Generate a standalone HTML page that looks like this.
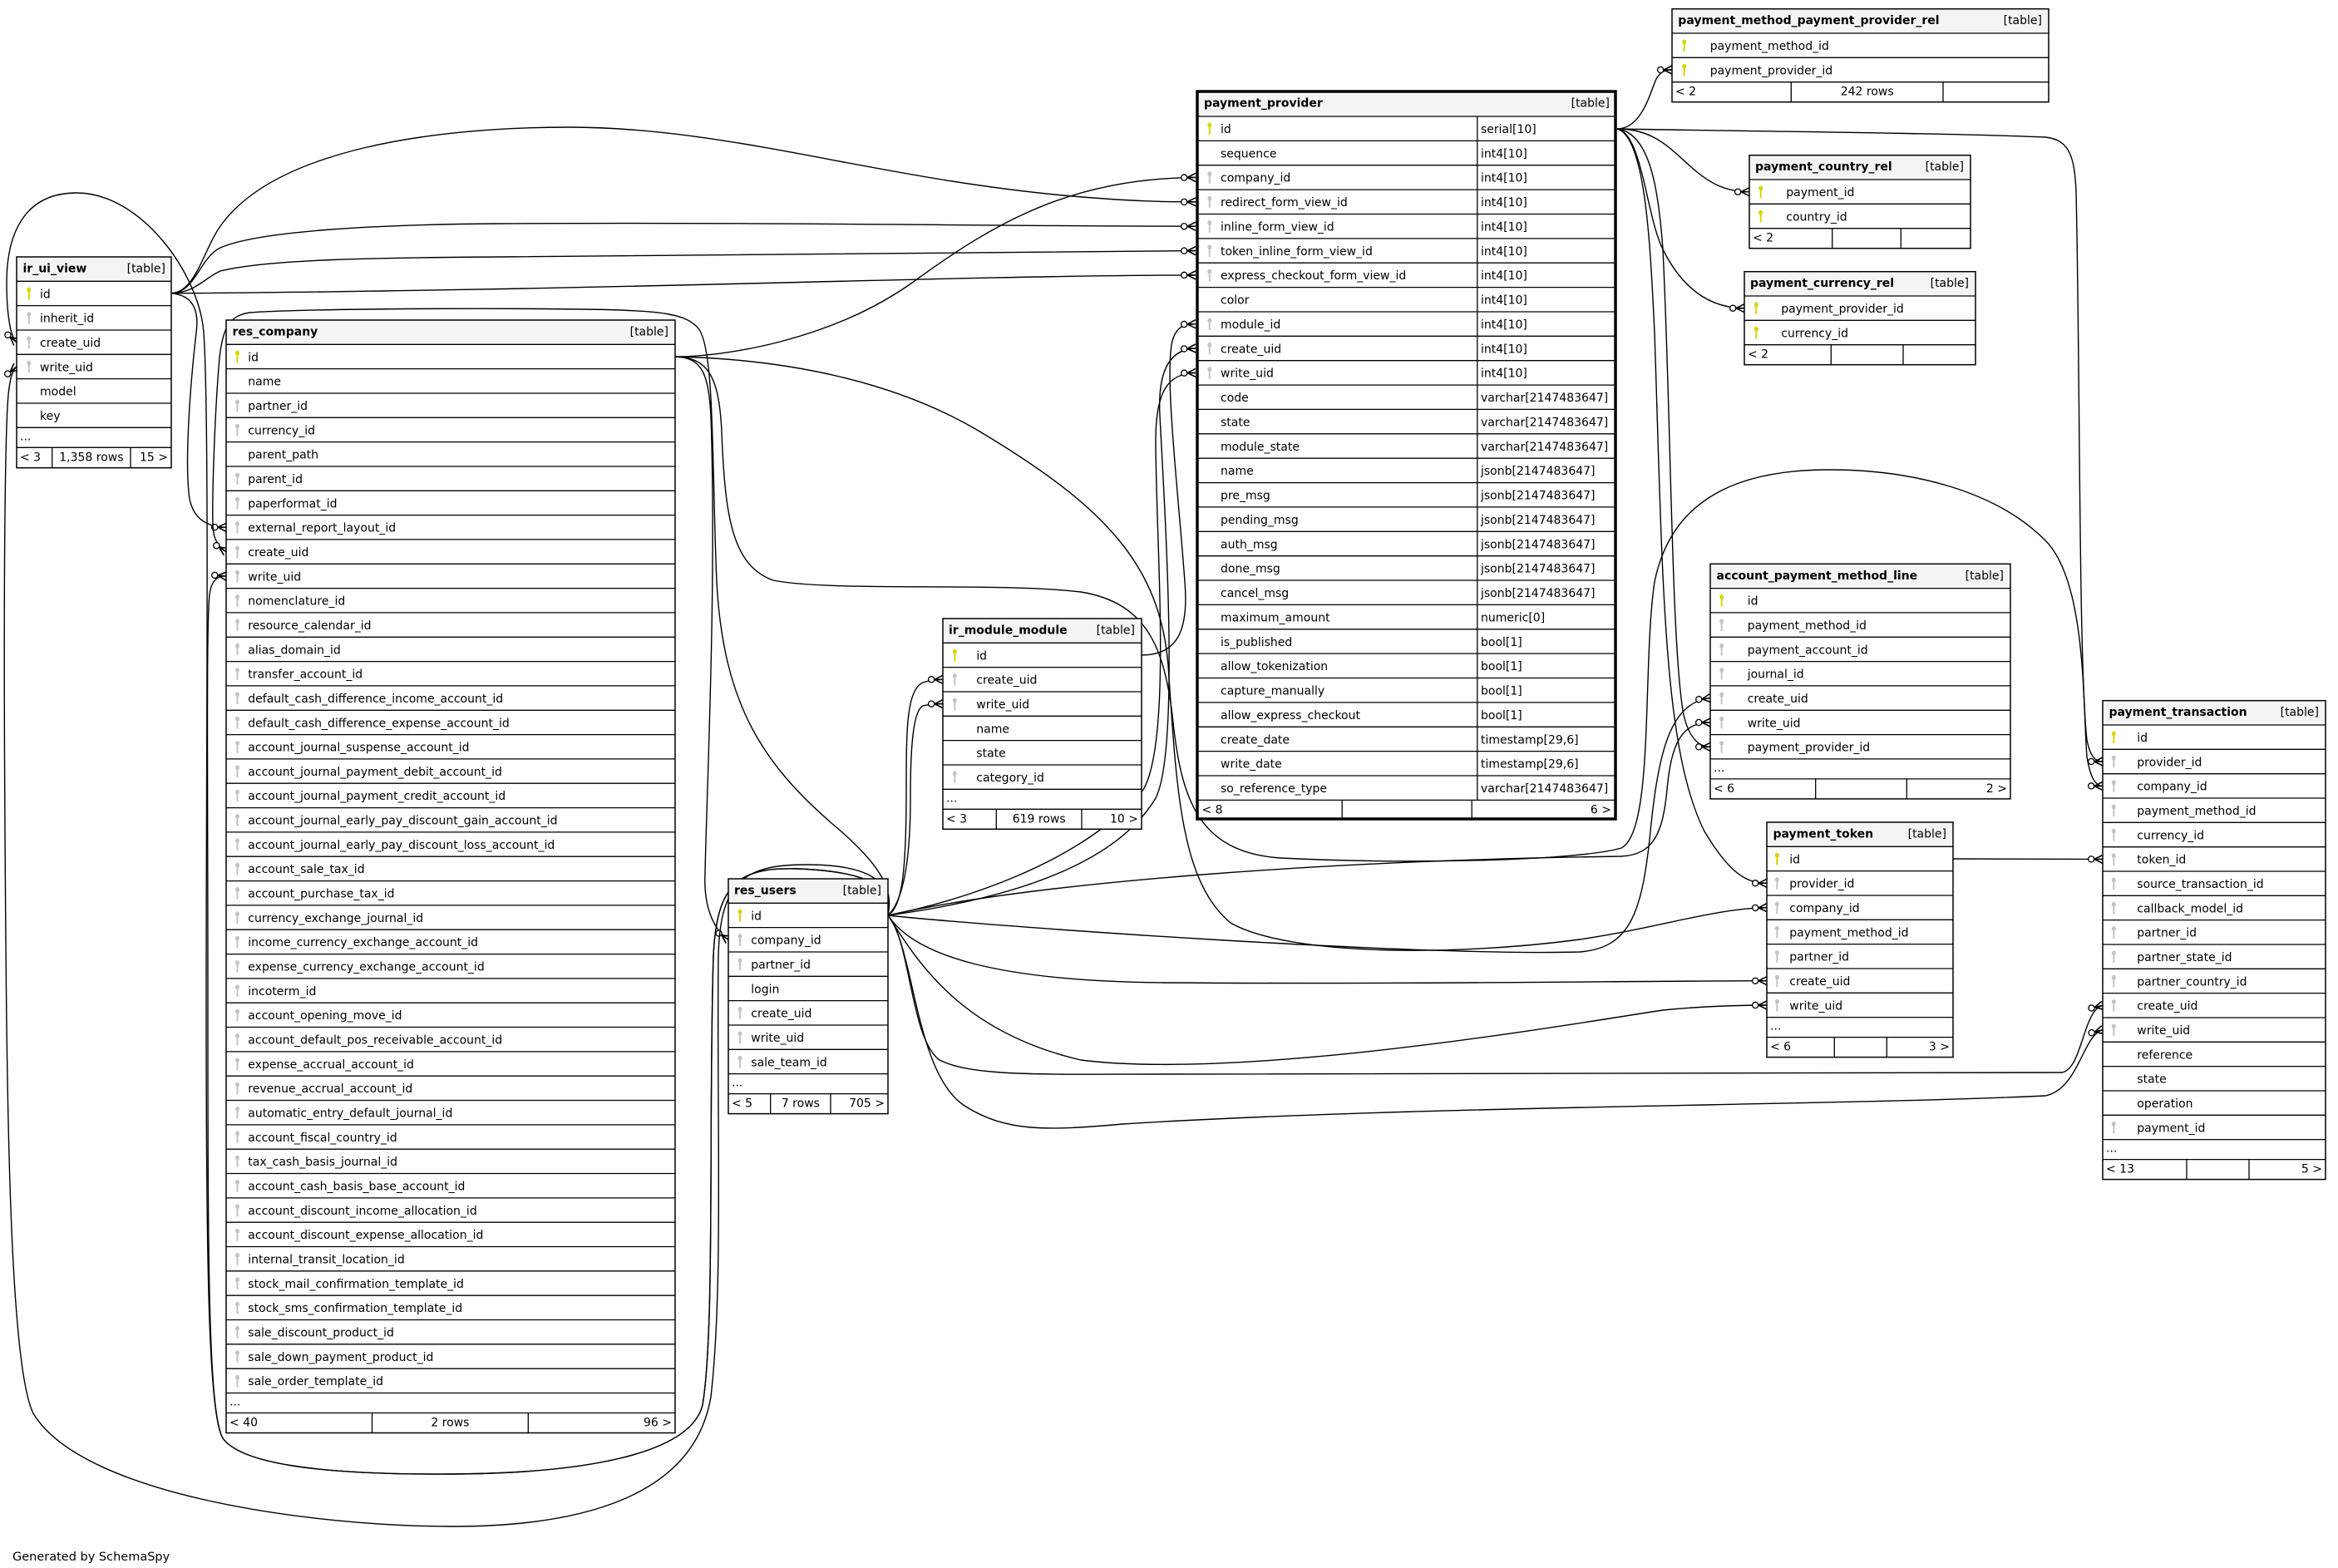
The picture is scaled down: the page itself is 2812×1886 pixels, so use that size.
<!DOCTYPE html>
<html><head><meta charset="utf-8"><title>payment_provider</title>
<style>
html,body{margin:0;padding:0;background:#fff}
svg{display:block}
.t{font-family:"DejaVu Sans","Liberation Sans",sans-serif;font-size:14px;fill:#000}
.b{font-weight:bold}
.e{text-anchor:end}
.m{text-anchor:middle}
.ln{stroke:#000;stroke-width:1.3;fill:none}
.ol{fill:none;stroke:#000;stroke-width:1.5}
.hd{fill:#f4f4f4}
.edges path{fill:none;stroke:#000;stroke-width:1.4;marker-end:url(#cf)}
</style></head>
<body>
<svg width="2812" height="1886" viewBox="0 0 2812 1886" xmlns="http://www.w3.org/2000/svg">
<defs>
<marker id="cf" markerUnits="userSpaceOnUse" viewBox="-20 -8 22 16" markerWidth="22" markerHeight="16" refX="0" refY="0" orient="auto" overflow="visible">
<path d="M-10,0L0,-5M-10,0L0,0M-10,0L0,5" fill="none" stroke="#000" stroke-width="1.6"/>
<circle cx="-13.8" cy="0" r="3.6" fill="#fff" stroke="#000" stroke-width="1.3"/>
</marker>
<g id="pk" fill="#d6d600"><ellipse cx="0" cy="-4.3" rx="2.5" ry="2.9"/><rect x="-1" y="-2" width="2" height="9.5"/></g>
<g id="fk" fill="#c4c4c4"><ellipse cx="0" cy="-4.3" rx="2.5" ry="2.9"/><rect x="-1" y="-2" width="2" height="9.5"/></g>
</defs>
<rect width="2812" height="1886" fill="#fff"/>

<g class="edges">
<!-- ir_ui_view.id -> payment_provider -->
<path d="M206,352.7 C235,352 245,300 265,272 C330,180 520,153 684,153 C880,153 1050,215 1290,236 C1360,242 1400,243 1438,242.8"/>
<path d="M206,352.7 C235,352 240,310 265,298 C310,278 450,270 600,269 C900,267 1200,272 1438,272.2"/>
<path d="M206,352.7 C235,352 245,335 265,326 C320,312 450,310 600,309 C900,306 1200,302 1438,301.6"/>
<path d="M206,352.7 C400,352 700,346 900,341 C1100,336 1300,331 1438,330.9"/>
<!-- ir_ui_view.id -> res_company.external_report_layout_id -->
<path d="M206,352.7 C230,355 240,370 236,400 C228,470 222,560 228,600 C233,625 250,634 272,634.3"/>
<!-- res_company.id -> payment_provider.company_id -->
<path d="M812,429 C870,429 1000,410 1100,338 C1200,265 1290,215 1438,213.4"/>
<!-- res_company.id -> res_users.company_id -->
<path d="M812,429 C845,430 852,450 855,500 C862,700 850,950 848,1050 C846,1090 858,1118 876,1130.3"/>
<!-- ir_module_module.id -> payment_provider.module_id -->
<path d="M1373,788 C1415,788 1430,760 1425,700 C1418,600 1400,450 1410,410 C1415,392 1425,390 1438,389.7"/>
<!-- res_users.id -> payment_provider create/write -->
<path d="M1068,1101 C1150,1090 1330,1060 1390,960 C1420,900 1400,600 1395,500 C1392,440 1410,420 1438,419"/>
<path d="M1068,1101 C1150,1085 1300,1040 1375,950 C1410,890 1390,650 1390,530 C1390,470 1405,449 1438,448.4"/>
<!-- res_users.id -> ir_module_module create/write -->
<path d="M1068,1101 C1085,1090 1090,1050 1090,950 C1090,880 1090,830 1110,821 C1118,818 1126,817.3 1134,817.3"/>
<path d="M1068,1101 C1085,1085 1095,1040 1095,960 C1095,900 1098,855 1110,849 C1118,847 1126,846.6 1134,846.6"/>
<!-- res_users.id -> account_payment_method_line create/write -->
<path d="M1068,1101 C1200,1115 1700,1150 1900,1145 C1960,1140 1975,1100 1985,1000 C1995,900 2010,845 2057,839.6"/>
<path d="M1068,1101 C1250,1060 1600,1035 1950,1030 C1990,1028 2000,1000 2005,950 C2010,890 2025,869 2057,869"/>
<!-- res_users.id -> payment_token create/write -->
<path d="M1068,1101 C1100,1150 1200,1180 1400,1182 C1700,1184 1950,1180 2125,1179.7"/>
<path d="M1068,1101 C1100,1150 1150,1240 1300,1275 C1500,1300 1900,1230 2000,1215 C2050,1210 2090,1209 2125,1209"/>
<!-- res_users.id -> payment_transaction create/write -->
<path d="M1068,1101 C1095,1130 1095,1250 1130,1275 C1170,1295 1250,1292 1400,1292 C1900,1292 2300,1292 2480,1290 C2505,1285 2505,1215 2529,1209.3"/>
<path d="M1068,1101 C1100,1140 1100,1290 1160,1330 C1210,1362 1260,1360 1350,1352 C1700,1330 2200,1330 2460,1318 C2500,1310 2505,1245 2529,1238.6"/>
<!-- payment_provider.id -> rel tables -->
<path d="M1945,155 C1975,155 1985,110 1992,95 C1997,86 2003,84 2011,84"/>
<path d="M1945,155 C1990,155 2010,180 2033,200 C2055,220 2075,230.7 2104,230.7"/>
<path d="M1945,155 C1975,160 1980,260 2000,300 C2020,340 2050,370.7 2098,370.7"/>
<!-- payment_provider.id -> apml / token / transaction -->
<path d="M1945,155 C1985,160 1995,230 2000,300 C2010,500 2010,780 2025,860 C2032,890 2045,898.3 2057,898.3"/>
<path d="M1945,155 C1980,165 1985,300 1990,400 C2000,700 2000,900 2050,1000 C2080,1050 2100,1062.3 2125,1062.3"/>
<path d="M1945,155 C2100,158 2350,160 2460,165 C2490,168 2495,190 2497,230 C2502,450 2500,800 2510,890 C2514,910 2520,916 2529,916"/>
<!-- payment_token.id -> payment_transaction.token_id -->
<path d="M2349,1033 L2529,1033.4"/>
<!-- res_company.id -> payment_transaction.company_id -->
<path d="M812,429 C850,430 865,450 868,520 C872,620 880,680 930,698 C1000,712 1200,700 1300,712 C1380,725 1400,780 1410,860 C1420,960 1440,1025 1540,1032 C1700,1040 1900,1035 1950,1020 C1990,1000 1975,800 1990,700 C2010,600 2090,565 2200,565 C2300,565 2400,590 2460,650 C2510,700 2505,850 2510,910 C2514,935 2520,945.4 2529,945.4"/>
<!-- res_company.id -> payment_token.company_id -->
<path d="M812,429 C950,432 1080,460 1180,520 C1330,610 1395,680 1405,800 C1415,950 1420,1060 1480,1110 C1550,1150 1750,1150 1900,1130 C2000,1115 2060,1093 2125,1091.7"/>
<!-- res_users.id -> res_company.create_uid (arc over top) -->
<path d="M1068,1101 C1075,1070 1060,1040 1000,990 C920,920 870,850 862,700 C856,560 860,420 840,395 C825,378 800,373 700,372 C550,370 350,372 300,376 C275,380 268,395 264,430 C258,500 255,600 256,630 C256,645 260,656 272,663.6"/>
<!-- res_users.id -> res_company.write_uid (inner arc below) -->
<path d="M1068,1101 C1075,1065 1040,1048 960,1045 C890,1043 862,1060 858,1150 C852,1350 860,1600 845,1690 C830,1750 700,1772 544,1773 C380,1774 290,1760 268,1730 C250,1700 250,1500 250,1200 C250,950 248,750 252,715 C254,700 260,692 272,693"/>
<!-- res_users.id -> ir_ui_view.create_uid (loop over top-left) -->
<path d="M1068,1101 C1075,1065 1040,1048 960,1045 C890,1043 862,1060 858,1150 C852,1350 860,1600 845,1690 C830,1750 700,1772 544,1773 C380,1774 290,1760 268,1730 C250,1700 248,1500 248,1200 C248,900 252,500 245,400 C240,330 170,232 92,232 C30,232 8,280 8,340 C8,375 12,405 20,411.7"/>
<!-- res_users.id -> ir_ui_view.write_uid (outer arc, far left) -->
<path d="M1068,1101 C1075,1060 1045,1040 970,1040 C895,1040 866,1060 864,1150 C862,1350 870,1550 855,1680 C835,1800 700,1836 544,1836 C380,1836 100,1800 40,1700 C10,1640 8,1300 6,1000 C4,700 6,520 10,475 C12,455 15,445 20,441"/>
</g>

<!-- ir_ui_view -->
<g transform="translate(20,309)">
<rect width="186" height="253.7" fill="#fff"/>
<rect x="0.7" y="0.7" width="184.6" height="28.6" class="hd"/>
<path class="ln" d="M0,29.3H186M0,58.6H186M0,88H186M0,117.3H186M0,146.6H186M0,176H186M0,205.3H186M0,229.3H186M42.7,229.3V253.7M137,229.3V253.7"/>
<rect width="186" height="253.7" class="ol"/>
<text x="7.5" y="18.5" class="t b">ir_ui_view</text><text x="179" y="18.5" class="t e">[table]</text>
<use href="#pk" x="14.8" y="44"/><text x="28" y="49.3" class="t">id</text>
<use href="#fk" x="14.8" y="73.3"/><text x="28" y="78.6" class="t">inherit_id</text>
<use href="#fk" x="14.8" y="102.7"/><text x="28" y="108" class="t">create_uid</text>
<use href="#fk" x="14.8" y="132"/><text x="28" y="137.3" class="t">write_uid</text>
<text x="28" y="166.6" class="t">model</text>
<text x="28" y="196" class="t">key</text>
<text x="4" y="220.3" class="t">...</text>
<text x="4" y="245.3" class="t">&lt; 3</text><text x="89.9" y="245.3" class="t m">1,358 rows</text><text x="182" y="245.3" class="t e">15 &gt;</text>
</g>

<!-- res_company -->
<g transform="translate(272,385)">
<rect width="540" height="1338.5" fill="#fff"/>
<rect x="0.7" y="0.7" width="538.6" height="28.6" class="hd"/>
<path class="ln" d="M0,29.3H540M0,58.6H540M0,88H540M0,117.3H540M0,146.6H540M0,176H540M0,205.3H540M0,234.6H540M0,263.9H540M0,293.3H540M0,322.6H540M0,351.9H540M0,381.3H540M0,410.6H540M0,439.9H540M0,469.3H540M0,498.6H540M0,527.9H540M0,557.2H540M0,586.6H540M0,615.9H540M0,645.2H540M0,674.6H540M0,703.9H540M0,733.2H540M0,762.6H540M0,791.9H540M0,821.2H540M0,850.5H540M0,879.9H540M0,909.2H540M0,938.5H540M0,967.9H540M0,997.2H540M0,1026.5H540M0,1055.9H540M0,1085.2H540M0,1114.5H540M0,1143.8H540M0,1173.2H540M0,1202.5H540M0,1231.8H540M0,1261.2H540M0,1290.5H540M0,1314.5H540M175.5,1314.5V1338.5M363.3,1314.5V1338.5"/>
<rect width="540" height="1338.5" class="ol"/>
<text x="7.5" y="18.5" class="t b">res_company</text><text x="532" y="18.5" class="t e">[table]</text>
<use href="#pk" x="13.5" y="44"/><text x="26.3" y="49.3" class="t">id</text>
<text x="26.3" y="78.6" class="t">name</text>
<use href="#fk" x="13.5" y="102.7"/><text x="26.3" y="108" class="t">partner_id</text>
<use href="#fk" x="13.5" y="132"/><text x="26.3" y="137.3" class="t">currency_id</text>
<text x="26.3" y="166.6" class="t">parent_path</text>
<use href="#fk" x="13.5" y="190.7"/><text x="26.3" y="196" class="t">parent_id</text>
<use href="#fk" x="13.5" y="220"/><text x="26.3" y="225.3" class="t">paperformat_id</text>
<use href="#fk" x="13.5" y="249.3"/><text x="26.3" y="254.6" class="t">external_report_layout_id</text>
<use href="#fk" x="13.5" y="278.6"/><text x="26.3" y="283.9" class="t">create_uid</text>
<use href="#fk" x="13.5" y="308"/><text x="26.3" y="313.3" class="t">write_uid</text>
<use href="#fk" x="13.5" y="337.3"/><text x="26.3" y="342.6" class="t">nomenclature_id</text>
<use href="#fk" x="13.5" y="366.6"/><text x="26.3" y="371.9" class="t">resource_calendar_id</text>
<use href="#fk" x="13.5" y="396"/><text x="26.3" y="401.3" class="t">alias_domain_id</text>
<use href="#fk" x="13.5" y="425.3"/><text x="26.3" y="430.6" class="t">transfer_account_id</text>
<use href="#fk" x="13.5" y="454.6"/><text x="26.3" y="459.9" class="t">default_cash_difference_income_account_id</text>
<use href="#fk" x="13.5" y="484"/><text x="26.3" y="489.3" class="t">default_cash_difference_expense_account_id</text>
<use href="#fk" x="13.5" y="513.3"/><text x="26.3" y="518.6" class="t">account_journal_suspense_account_id</text>
<use href="#fk" x="13.5" y="542.6"/><text x="26.3" y="547.9" class="t">account_journal_payment_debit_account_id</text>
<use href="#fk" x="13.5" y="571.9"/><text x="26.3" y="577.2" class="t">account_journal_payment_credit_account_id</text>
<use href="#fk" x="13.5" y="601.3"/><text x="26.3" y="606.6" class="t">account_journal_early_pay_discount_gain_account_id</text>
<use href="#fk" x="13.5" y="630.6"/><text x="26.3" y="635.9" class="t">account_journal_early_pay_discount_loss_account_id</text>
<use href="#fk" x="13.5" y="659.9"/><text x="26.3" y="665.2" class="t">account_sale_tax_id</text>
<use href="#fk" x="13.5" y="689.3"/><text x="26.3" y="694.6" class="t">account_purchase_tax_id</text>
<use href="#fk" x="13.5" y="718.6"/><text x="26.3" y="723.9" class="t">currency_exchange_journal_id</text>
<use href="#fk" x="13.5" y="747.9"/><text x="26.3" y="753.2" class="t">income_currency_exchange_account_id</text>
<use href="#fk" x="13.5" y="777.3"/><text x="26.3" y="782.6" class="t">expense_currency_exchange_account_id</text>
<use href="#fk" x="13.5" y="806.6"/><text x="26.3" y="811.9" class="t">incoterm_id</text>
<use href="#fk" x="13.5" y="835.9"/><text x="26.3" y="841.2" class="t">account_opening_move_id</text>
<use href="#fk" x="13.5" y="865.2"/><text x="26.3" y="870.5" class="t">account_default_pos_receivable_account_id</text>
<use href="#fk" x="13.5" y="894.6"/><text x="26.3" y="899.9" class="t">expense_accrual_account_id</text>
<use href="#fk" x="13.5" y="923.9"/><text x="26.3" y="929.2" class="t">revenue_accrual_account_id</text>
<use href="#fk" x="13.5" y="953.2"/><text x="26.3" y="958.5" class="t">automatic_entry_default_journal_id</text>
<use href="#fk" x="13.5" y="982.6"/><text x="26.3" y="987.9" class="t">account_fiscal_country_id</text>
<use href="#fk" x="13.5" y="1011.9"/><text x="26.3" y="1017.2" class="t">tax_cash_basis_journal_id</text>
<use href="#fk" x="13.5" y="1041.2"/><text x="26.3" y="1046.5" class="t">account_cash_basis_base_account_id</text>
<use href="#fk" x="13.5" y="1070.6"/><text x="26.3" y="1075.9" class="t">account_discount_income_allocation_id</text>
<use href="#fk" x="13.5" y="1099.9"/><text x="26.3" y="1105.2" class="t">account_discount_expense_allocation_id</text>
<use href="#fk" x="13.5" y="1129.2"/><text x="26.3" y="1134.5" class="t">internal_transit_location_id</text>
<use href="#fk" x="13.5" y="1158.5"/><text x="26.3" y="1163.8" class="t">stock_mail_confirmation_template_id</text>
<use href="#fk" x="13.5" y="1187.9"/><text x="26.3" y="1193.2" class="t">stock_sms_confirmation_template_id</text>
<use href="#fk" x="13.5" y="1217.2"/><text x="26.3" y="1222.5" class="t">sale_discount_product_id</text>
<use href="#fk" x="13.5" y="1246.5"/><text x="26.3" y="1251.8" class="t">sale_down_payment_product_id</text>
<use href="#fk" x="13.5" y="1275.9"/><text x="26.3" y="1281.2" class="t">sale_order_template_id</text>
<text x="4" y="1305.5" class="t">...</text>
<text x="4" y="1330.5" class="t">&lt; 40</text><text x="269.4" y="1330.5" class="t m">2 rows</text><text x="536" y="1330.5" class="t e">96 &gt;</text>
</g>

<!-- payment_provider -->
<g>
<rect x="1440" y="110" width="503" height="875" fill="#fff"/>
<rect x="1441.7" y="111.7" width="499.6" height="28.3" class="hd"/>
<path class="ln" d="M1440,140H1943M1440,169.4H1943M1440,198.7H1943M1440,228.1H1943M1440,257.5H1943M1440,286.9H1943M1440,316.2H1943M1440,345.6H1943M1440,375H1943M1440,404.3H1943M1440,433.7H1943M1440,463.1H1943M1440,492.4H1943M1440,521.8H1943M1440,551.2H1943M1440,580.6H1943M1440,609.9H1943M1440,639.3H1943M1440,668.7H1943M1440,698H1943M1440,727.4H1943M1440,756.8H1943M1440,786.1H1943M1440,815.5H1943M1440,844.9H1943M1440,874.3H1943M1440,903.6H1943M1440,933H1943M1440,962.4H1943M1776.8,140V962.4M1614.2,962.4V985M1770.2,962.4V985"/>
<rect x="1440" y="110" width="503" height="875" fill="none" stroke="#000" stroke-width="3.5"/>
<text x="1448" y="128.5" class="t b">payment_provider</text><text x="1936" y="128.5" class="t e">[table]</text>
<use href="#pk" x="1454.8" y="154.7"/><text x="1468" y="160" class="t">id</text><text x="1781" y="160" class="t">serial[10]</text>
<text x="1468" y="189.4" class="t">sequence</text><text x="1781" y="189.4" class="t">int4[10]</text>
<use href="#fk" x="1454.8" y="213.4"/><text x="1468" y="218.7" class="t">company_id</text><text x="1781" y="218.7" class="t">int4[10]</text>
<use href="#fk" x="1454.8" y="242.8"/><text x="1468" y="248.1" class="t">redirect_form_view_id</text><text x="1781" y="248.1" class="t">int4[10]</text>
<use href="#fk" x="1454.8" y="272.2"/><text x="1468" y="277.5" class="t">inline_form_view_id</text><text x="1781" y="277.5" class="t">int4[10]</text>
<use href="#fk" x="1454.8" y="301.6"/><text x="1468" y="306.9" class="t">token_inline_form_view_id</text><text x="1781" y="306.9" class="t">int4[10]</text>
<use href="#fk" x="1454.8" y="330.9"/><text x="1468" y="336.2" class="t">express_checkout_form_view_id</text><text x="1781" y="336.2" class="t">int4[10]</text>
<text x="1468" y="365.6" class="t">color</text><text x="1781" y="365.6" class="t">int4[10]</text>
<use href="#fk" x="1454.8" y="389.7"/><text x="1468" y="395" class="t">module_id</text><text x="1781" y="395" class="t">int4[10]</text>
<use href="#fk" x="1454.8" y="419"/><text x="1468" y="424.3" class="t">create_uid</text><text x="1781" y="424.3" class="t">int4[10]</text>
<use href="#fk" x="1454.8" y="448.4"/><text x="1468" y="453.7" class="t">write_uid</text><text x="1781" y="453.7" class="t">int4[10]</text>
<text x="1468" y="483.1" class="t">code</text><text x="1781" y="483.1" class="t">varchar[2147483647]</text>
<text x="1468" y="512.4" class="t">state</text><text x="1781" y="512.4" class="t">varchar[2147483647]</text>
<text x="1468" y="541.8" class="t">module_state</text><text x="1781" y="541.8" class="t">varchar[2147483647]</text>
<text x="1468" y="571.2" class="t">name</text><text x="1781" y="571.2" class="t">jsonb[2147483647]</text>
<text x="1468" y="600.6" class="t">pre_msg</text><text x="1781" y="600.6" class="t">jsonb[2147483647]</text>
<text x="1468" y="629.9" class="t">pending_msg</text><text x="1781" y="629.9" class="t">jsonb[2147483647]</text>
<text x="1468" y="659.3" class="t">auth_msg</text><text x="1781" y="659.3" class="t">jsonb[2147483647]</text>
<text x="1468" y="688.7" class="t">done_msg</text><text x="1781" y="688.7" class="t">jsonb[2147483647]</text>
<text x="1468" y="718" class="t">cancel_msg</text><text x="1781" y="718" class="t">jsonb[2147483647]</text>
<text x="1468" y="747.4" class="t">maximum_amount</text><text x="1781" y="747.4" class="t">numeric[0]</text>
<text x="1468" y="776.8" class="t">is_published</text><text x="1781" y="776.8" class="t">bool[1]</text>
<text x="1468" y="806.1" class="t">allow_tokenization</text><text x="1781" y="806.1" class="t">bool[1]</text>
<text x="1468" y="835.5" class="t">capture_manually</text><text x="1781" y="835.5" class="t">bool[1]</text>
<text x="1468" y="864.9" class="t">allow_express_checkout</text><text x="1781" y="864.9" class="t">bool[1]</text>
<text x="1468" y="894.3" class="t">create_date</text><text x="1781" y="894.3" class="t">timestamp[29,6]</text>
<text x="1468" y="923.6" class="t">write_date</text><text x="1781" y="923.6" class="t">timestamp[29,6]</text>
<text x="1468" y="953" class="t">so_reference_type</text><text x="1781" y="953" class="t">varchar[2147483647]</text>
<text x="1445.5" y="978.4" class="t">&lt; 8</text><text x="1938" y="978.4" class="t e">6 &gt;</text>
</g>

<!-- payment_method_payment_provider_rel -->
<g transform="translate(2011,10.7)">
<rect width="453" height="112" fill="#fff"/>
<rect x="0.7" y="0.7" width="451.6" height="28.6" class="hd"/>
<path class="ln" d="M0,29.3H453M0,58.6H453M0,88H453M143.3,88V112M326,88V112"/>
<rect width="453" height="112" class="ol"/>
<text x="7.3" y="18.5" class="t b">payment_method_payment_provider_rel</text><text x="445" y="18.5" class="t e">[table]</text>
<use href="#pk" x="14.7" y="44"/><text x="45.7" y="49.3" class="t">payment_method_id</text>
<use href="#pk" x="14.7" y="73.3"/><text x="45.7" y="78.6" class="t">payment_provider_id</text>
<text x="4" y="104" class="t">&lt; 2</text><text x="234.7" y="104" class="t m">242 rows</text>
</g>

<!-- payment_country_rel -->
<g transform="translate(2104,186.7)">
<rect width="266" height="112" fill="#fff"/>
<rect x="0.7" y="0.7" width="264.6" height="28.6" class="hd"/>
<path class="ln" d="M0,29.3H266M0,58.6H266M0,88H266M99.7,88V112M182.3,88V112"/>
<rect width="266" height="112" class="ol"/>
<text x="7" y="18.5" class="t b">payment_country_rel</text><text x="258" y="18.5" class="t e">[table]</text>
<use href="#pk" x="13.7" y="44"/><text x="44.3" y="49.3" class="t">payment_id</text>
<use href="#pk" x="13.7" y="73.3"/><text x="44.3" y="78.6" class="t">country_id</text>
<text x="4" y="104" class="t">&lt; 2</text>
</g>

<!-- payment_currency_rel -->
<g transform="translate(2098,326.7)">
<rect width="278" height="112" fill="#fff"/>
<rect x="0.7" y="0.7" width="276.6" height="28.6" class="hd"/>
<path class="ln" d="M0,29.3H278M0,58.6H278M0,88H278M104.3,88V112M191,88V112"/>
<rect width="278" height="112" class="ol"/>
<text x="7" y="18.5" class="t b">payment_currency_rel</text><text x="270" y="18.5" class="t e">[table]</text>
<use href="#pk" x="14.3" y="44"/><text x="44.3" y="49.3" class="t">payment_provider_id</text>
<use href="#pk" x="14.3" y="73.3"/><text x="44.3" y="78.6" class="t">currency_id</text>
<text x="4" y="104" class="t">&lt; 2</text>
</g>

<!-- ir_module_module -->
<g transform="translate(1134,744)">
<rect width="239" height="253.3" fill="#fff"/>
<rect x="0.7" y="0.7" width="237.6" height="28.6" class="hd"/>
<path class="ln" d="M0,29.3H239M0,58.6H239M0,88H239M0,117.3H239M0,146.6H239M0,176H239M0,205.3H239M0,229.3H239M64.3,229.3V253.3M167,229.3V253.3"/>
<rect width="239" height="253.3" class="ol"/>
<text x="7" y="18.5" class="t b">ir_module_module</text><text x="231" y="18.5" class="t e">[table]</text>
<use href="#pk" x="14.3" y="44"/><text x="40.3" y="49.3" class="t">id</text>
<use href="#fk" x="14.3" y="73.3"/><text x="40.3" y="78.6" class="t">create_uid</text>
<use href="#fk" x="14.3" y="102.7"/><text x="40.3" y="108" class="t">write_uid</text>
<text x="40.3" y="137.3" class="t">name</text>
<text x="40.3" y="166.6" class="t">state</text>
<use href="#fk" x="14.3" y="190.7"/><text x="40.3" y="196" class="t">category_id</text>
<text x="4" y="220.3" class="t">...</text>
<text x="4" y="245.3" class="t">&lt; 3</text><text x="115.7" y="245.3" class="t m">619 rows</text><text x="235" y="245.3" class="t e">10 &gt;</text>
</g>

<!-- res_users -->
<g transform="translate(876,1057)">
<rect width="192" height="282.6" fill="#fff"/>
<rect x="0.7" y="0.7" width="190.6" height="28.6" class="hd"/>
<path class="ln" d="M0,29.3H192M0,58.6H192M0,88H192M0,117.3H192M0,146.6H192M0,176H192M0,205.3H192M0,234.6H192M0,258.6H192M50.7,258.6V282.6M123,258.6V282.6"/>
<rect width="192" height="282.6" class="ol"/>
<text x="7" y="18.5" class="t b">res_users</text><text x="184" y="18.5" class="t e">[table]</text>
<use href="#pk" x="14" y="44"/><text x="27.3" y="49.3" class="t">id</text>
<use href="#fk" x="14" y="73.3"/><text x="27.3" y="78.6" class="t">company_id</text>
<use href="#fk" x="14" y="102.7"/><text x="27.3" y="108" class="t">partner_id</text>
<text x="27.3" y="137.3" class="t">login</text>
<use href="#fk" x="14" y="161.3"/><text x="27.3" y="166.6" class="t">create_uid</text>
<use href="#fk" x="14" y="190.7"/><text x="27.3" y="196" class="t">write_uid</text>
<use href="#fk" x="14" y="220"/><text x="27.3" y="225.3" class="t">sale_team_id</text>
<text x="4" y="249.6" class="t">...</text>
<text x="4" y="274.6" class="t">&lt; 5</text><text x="86.9" y="274.6" class="t m">7 rows</text><text x="188" y="274.6" class="t e">705 &gt;</text>
</g>

<!-- account_payment_method_line -->
<g transform="translate(2057,678.3)">
<rect width="361" height="282.6" fill="#fff"/>
<rect x="0.7" y="0.7" width="359.6" height="28.6" class="hd"/>
<path class="ln" d="M0,29.3H361M0,58.6H361M0,88H361M0,117.3H361M0,146.6H361M0,176H361M0,205.3H361M0,234.6H361M0,258.6H361M126.7,258.6V282.6M236.3,258.6V282.6"/>
<rect width="361" height="282.6" class="ol"/>
<text x="7.5" y="18.5" class="t b">account_payment_method_line</text><text x="353" y="18.5" class="t e">[table]</text>
<use href="#pk" x="13.7" y="44"/><text x="44.7" y="49.3" class="t">id</text>
<use href="#fk" x="13.7" y="73.3"/><text x="44.7" y="78.6" class="t">payment_method_id</text>
<use href="#fk" x="13.7" y="102.7"/><text x="44.7" y="108" class="t">payment_account_id</text>
<use href="#fk" x="13.7" y="132"/><text x="44.7" y="137.3" class="t">journal_id</text>
<use href="#fk" x="13.7" y="161.3"/><text x="44.7" y="166.6" class="t">create_uid</text>
<use href="#fk" x="13.7" y="190.7"/><text x="44.7" y="196" class="t">write_uid</text>
<use href="#fk" x="13.7" y="220"/><text x="44.7" y="225.3" class="t">payment_provider_id</text>
<text x="4" y="249.6" class="t">...</text>
<text x="4" y="274.6" class="t">&lt; 6</text><text x="357" y="274.6" class="t e">2 &gt;</text>
</g>

<!-- payment_token -->
<g transform="translate(2125,989)">
<rect width="224" height="282.6" fill="#fff"/>
<rect x="0.7" y="0.7" width="222.6" height="28.6" class="hd"/>
<path class="ln" d="M0,29.3H224M0,58.6H224M0,88H224M0,117.3H224M0,146.6H224M0,176H224M0,205.3H224M0,234.6H224M0,258.6H224M81.3,258.6V282.6M144.3,258.6V282.6"/>
<rect width="224" height="282.6" class="ol"/>
<text x="7.5" y="18.5" class="t b">payment_token</text><text x="216" y="18.5" class="t e">[table]</text>
<use href="#pk" x="12.3" y="44"/><text x="27.3" y="49.3" class="t">id</text>
<use href="#fk" x="12.3" y="73.3"/><text x="27.3" y="78.6" class="t">provider_id</text>
<use href="#fk" x="12.3" y="102.7"/><text x="27.3" y="108" class="t">company_id</text>
<use href="#fk" x="12.3" y="132"/><text x="27.3" y="137.3" class="t">payment_method_id</text>
<use href="#fk" x="12.3" y="161.3"/><text x="27.3" y="166.6" class="t">partner_id</text>
<use href="#fk" x="12.3" y="190.7"/><text x="27.3" y="196" class="t">create_uid</text>
<use href="#fk" x="12.3" y="220"/><text x="27.3" y="225.3" class="t">write_uid</text>
<text x="4" y="249.6" class="t">...</text>
<text x="4" y="274.6" class="t">&lt; 6</text><text x="220" y="274.6" class="t e">3 &gt;</text>
</g>

<!-- payment_transaction -->
<g transform="translate(2529,842.7)">
<rect width="268" height="575.9" fill="#fff"/>
<rect x="0.7" y="0.7" width="266.6" height="28.6" class="hd"/>
<path class="ln" d="M0,29.3H268M0,58.6H268M0,88H268M0,117.3H268M0,146.6H268M0,176H268M0,205.3H268M0,234.6H268M0,263.9H268M0,293.3H268M0,322.6H268M0,351.9H268M0,381.3H268M0,410.6H268M0,439.9H268M0,469.3H268M0,498.6H268M0,527.9H268M0,551.9H268M101,551.9V575.9M176,551.9V575.9"/>
<rect width="268" height="575.9" class="ol"/>
<text x="7.5" y="18.5" class="t b">payment_transaction</text><text x="260" y="18.5" class="t e">[table]</text>
<use href="#pk" x="13.3" y="44"/><text x="41.3" y="49.3" class="t">id</text>
<use href="#fk" x="13.3" y="73.3"/><text x="41.3" y="78.6" class="t">provider_id</text>
<use href="#fk" x="13.3" y="102.7"/><text x="41.3" y="108" class="t">company_id</text>
<use href="#fk" x="13.3" y="132"/><text x="41.3" y="137.3" class="t">payment_method_id</text>
<use href="#fk" x="13.3" y="161.3"/><text x="41.3" y="166.6" class="t">currency_id</text>
<use href="#fk" x="13.3" y="190.7"/><text x="41.3" y="196" class="t">token_id</text>
<use href="#fk" x="13.3" y="220"/><text x="41.3" y="225.3" class="t">source_transaction_id</text>
<use href="#fk" x="13.3" y="249.3"/><text x="41.3" y="254.6" class="t">callback_model_id</text>
<use href="#fk" x="13.3" y="278.6"/><text x="41.3" y="283.9" class="t">partner_id</text>
<use href="#fk" x="13.3" y="308"/><text x="41.3" y="313.3" class="t">partner_state_id</text>
<use href="#fk" x="13.3" y="337.3"/><text x="41.3" y="342.6" class="t">partner_country_id</text>
<use href="#fk" x="13.3" y="366.6"/><text x="41.3" y="371.9" class="t">create_uid</text>
<use href="#fk" x="13.3" y="396"/><text x="41.3" y="401.3" class="t">write_uid</text>
<text x="41.3" y="430.6" class="t">reference</text>
<text x="41.3" y="459.9" class="t">state</text>
<text x="41.3" y="489.3" class="t">operation</text>
<use href="#fk" x="13.3" y="513.3"/><text x="41.3" y="518.6" class="t">payment_id</text>
<text x="4" y="542.9" class="t">...</text>
<text x="4" y="567.9" class="t">&lt; 13</text><text x="264" y="567.9" class="t e">5 &gt;</text>
</g>

<text x="15" y="1877" class="t" style="font-size:14.5px">Generated by SchemaSpy</text>
</svg>
</body></html>
